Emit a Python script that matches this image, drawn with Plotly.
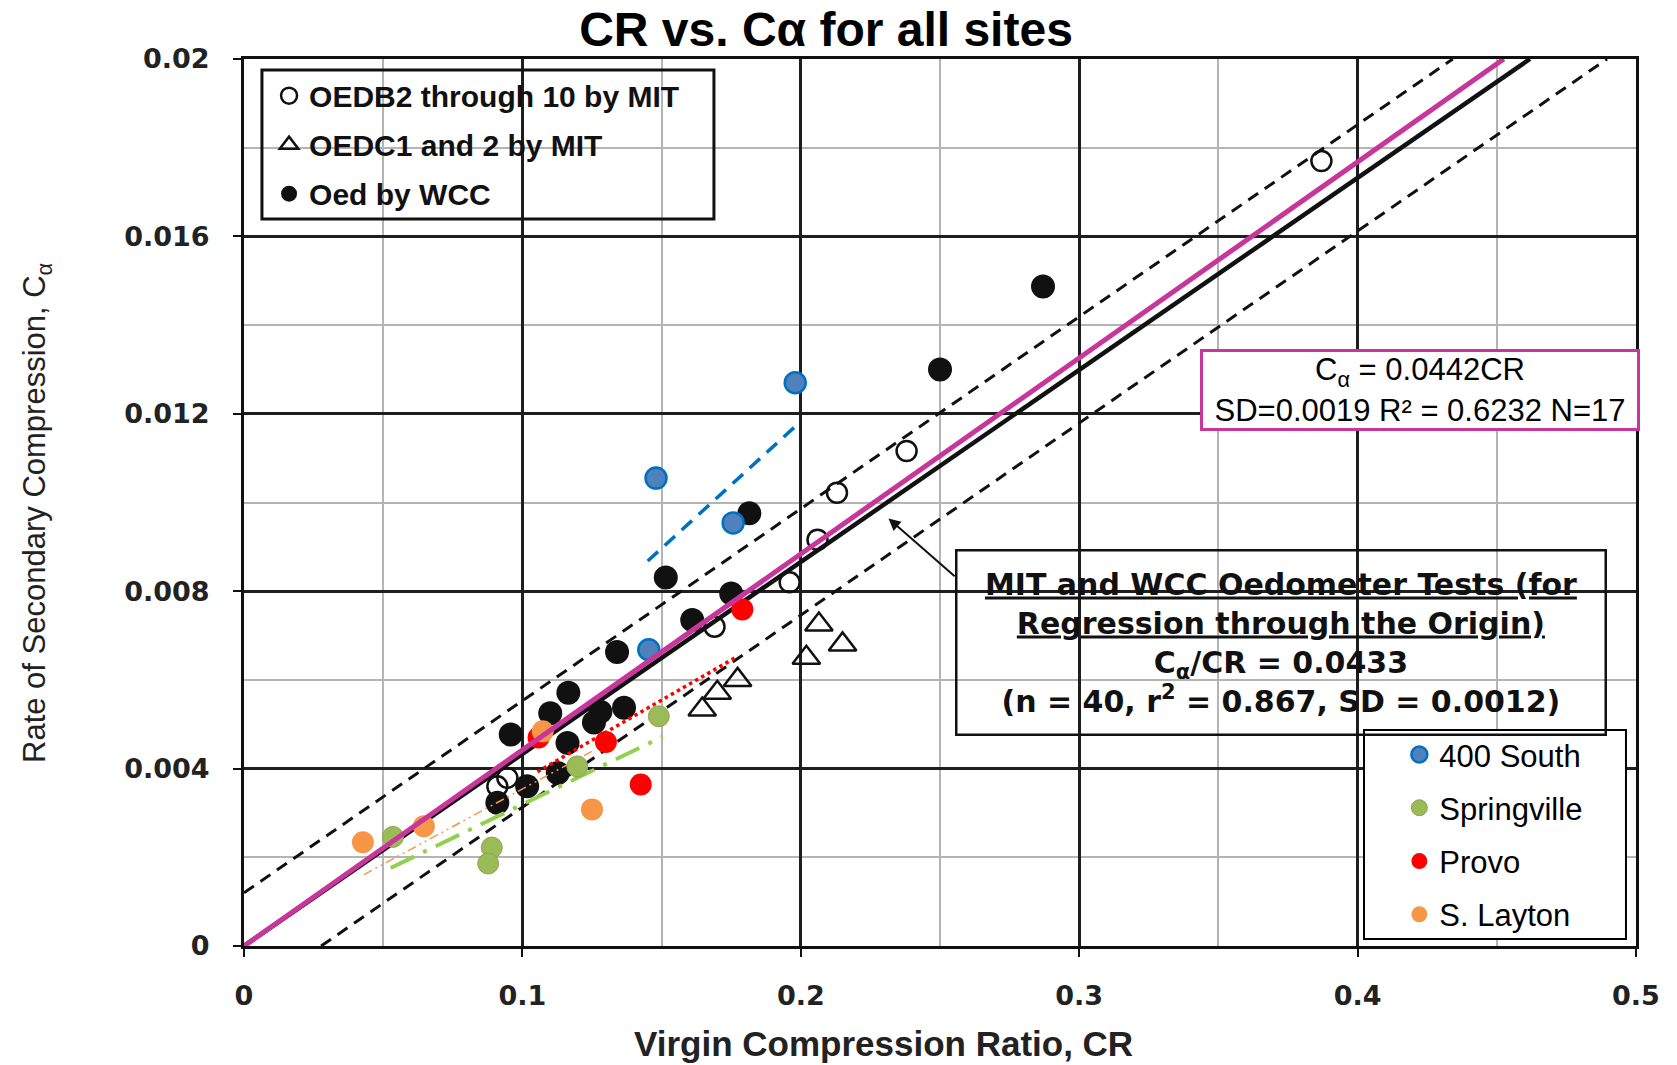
import plotly.graph_objects as go

# ---- data ----
# MIT open circles (OEDB2 through 10)
oedb_cr = [0.387, 0.238, 0.213, 0.206, 0.196, 0.169, 0.0946, 0.091]
oedb_ca = [0.0177, 0.01116, 0.01022, 0.00916, 0.0082, 0.0072, 0.00379, 0.0036]

# MIT triangles (OEDC1 and 2)
oedc_cr = [0.2065, 0.215, 0.202, 0.1773, 0.170, 0.1646]
oedc_ca = [0.00725, 0.0068, 0.0065, 0.0060, 0.00571, 0.00533]

# WCC filled circles
wcc_cr = [0.287, 0.250, 0.1815, 0.1515, 0.175, 0.161, 0.134, 0.1165, 0.110,
          0.128, 0.1365, 0.1257, 0.0958, 0.1162, 0.1127, 0.1017, 0.091]
wcc_ca = [0.01487, 0.0130, 0.00976, 0.00831, 0.00795, 0.00735, 0.00663, 0.00571, 0.00525,
          0.00528, 0.00537, 0.00504, 0.00477, 0.00458, 0.0039, 0.0036, 0.00323]

# site data
south_cr = [0.198, 0.148, 0.1757, 0.1454]
south_ca = [0.0127, 0.01055, 0.00954, 0.00668]
spring_cr = [0.149, 0.1197, 0.089, 0.0877, 0.0535]
spring_ca = [0.00518, 0.00405, 0.00222, 0.00186, 0.00246]
provo_cr = [0.179, 0.130, 0.1425, 0.1058]
provo_ca = [0.00759, 0.0046, 0.00364, 0.0047]
layton_cr = [0.1073, 0.125, 0.0646, 0.0427]
layton_ca = [0.00484, 0.00308, 0.0027, 0.00234]

# site trend lines (end points)
south_fit_cr = [0.145, 0.1988]
south_fit_ca = [0.00868, 0.01176]
spring_fit_cr = [0.0527, 0.1504]
spring_fit_ca = [0.00176, 0.00472]
provo_fit_cr = [0.1054, 0.1773]
provo_fit_ca = [0.00393, 0.00653]
layton_fit_cr = [0.0431, 0.125]
layton_fit_ca = [0.00161, 0.00439]

# regression lines (end points)
all_fit_cr = [0, 0.4525]        # Ca = 0.0442 CR
all_fit_ca = [0, 0.02]
mit_fit_cr = [0, 0.4619]        # Ca/CR = 0.0433
mit_fit_ca = [0, 0.02]
upper_cr = [0, 0.4342]
upper_ca = [0.0012, 0.02]
lower_cr = [0.0277, 0.4896]
lower_ca = [0, 0.02]

FONT = "Liberation Sans, Arial, sans-serif"
WIDE = "DejaVu Sans, Verdana, sans-serif"   # scanned text in the original is stretched wide
INK = "#111111"
MAGENTA = "#C8359B"

W, H = 1677, 1065

fig = go.Figure()

# scanned MIT / WCC data
fig.add_trace(go.Scatter(x=oedb_cr, y=oedb_ca, mode="markers", name="OEDB2 through 10 by MIT",
                         marker=dict(symbol="circle-open", size=20, color=INK, line=dict(width=2.5)),
                         legend="legend", legendgroup="a"))
fig.add_trace(go.Scatter(x=oedc_cr, y=oedc_ca, mode="markers", name="OEDC1 and 2 by MIT",
                         marker=dict(symbol="triangle-up-open", size=24, color=INK, line=dict(width=2.5)),
                         legend="legend", legendgroup="b"))
fig.add_trace(go.Scatter(x=wcc_cr, y=wcc_ca, mode="markers", name="Oed by WCC",
                         marker=dict(symbol="circle", size=24, color=INK),
                         legend="legend", legendgroup="c"))

# black regression lines
fig.add_trace(go.Scatter(x=mit_fit_cr, y=mit_fit_ca, mode="lines", line=dict(color=INK, width=4.5),
                         showlegend=False, hoverinfo="skip"))
fig.add_trace(go.Scatter(x=upper_cr, y=upper_ca, mode="lines", line=dict(color=INK, width=3, dash="12px,8px"),
                         showlegend=False, hoverinfo="skip"))
fig.add_trace(go.Scatter(x=lower_cr, y=lower_ca, mode="lines", line=dict(color=INK, width=3, dash="12px,8px"),
                         showlegend=False, hoverinfo="skip"))

# site trend lines
fig.add_trace(go.Scatter(x=south_fit_cr, y=south_fit_ca, mode="lines",
                         line=dict(color="#0070C0", width=3.5, dash="14px,9px"),
                         showlegend=False, hoverinfo="skip"))
fig.add_trace(go.Scatter(x=spring_fit_cr, y=spring_fit_ca, mode="lines",
                         line=dict(color="#92D050", width=4, dash="26px,10px,4px,10px"),
                         showlegend=False, hoverinfo="skip"))
fig.add_trace(go.Scatter(x=provo_fit_cr, y=provo_fit_ca, mode="lines",
                         line=dict(color="#FF0000", width=3.5, dash="dot"),
                         showlegend=False, hoverinfo="skip"))
fig.add_trace(go.Scatter(x=layton_fit_cr, y=layton_fit_ca, mode="lines",
                         line=dict(color="#F79646", width=1.5, dash="9px,4px,2px,4px,2px,4px"),
                         showlegend=False, hoverinfo="skip"))

# site points
fig.add_trace(go.Scatter(x=south_cr, y=south_ca, mode="markers", name="400 South",
                         marker=dict(size=21, color="#4F81BD", line=dict(color="#0070C0", width=2.5)),
                         legend="legend2", legendgroup="d"))
fig.add_trace(go.Scatter(x=spring_cr, y=spring_ca, mode="markers", name="Springville",
                         marker=dict(size=21, color="#9BBB59", line=dict(color="#8AA64C", width=1)),
                         legend="legend2", legendgroup="e"))
fig.add_trace(go.Scatter(x=provo_cr, y=provo_ca, mode="markers", name="Provo",
                         marker=dict(size=22, color="#FF0000"),
                         legend="legend2", legendgroup="f"))
fig.add_trace(go.Scatter(x=layton_cr, y=layton_ca, mode="markers", name="S. Layton",
                         marker=dict(size=22, color="#F79646"),
                         legend="legend2", legendgroup="g"))

# magenta all-sites regression on top
fig.add_trace(go.Scatter(x=all_fit_cr, y=all_fit_ca, mode="lines", line=dict(color=MAGENTA, width=5),
                         showlegend=False, hoverinfo="skip"))

axis_common = dict(
    showline=True, linecolor=INK, linewidth=3, mirror=True,
    showgrid=True, gridcolor="#1e1e1e", gridwidth=3,
    ticks="outside", ticklen=8, tickwidth=2, tickcolor=INK,
    tickfont=dict(family=WIDE, size=27, color="#222", weight="bold"),
    zeroline=False,
)

fig.update_xaxes(range=[0, 0.5], tickvals=[0, 0.1, 0.2, 0.3, 0.4, 0.5],
                 ticktext=["0", "0.1", "0.2", "0.3", "0.4", "0.5"], ticklabelstandoff=16,
                 minor=dict(dtick=0.05, showgrid=True, gridcolor="#b4b4b4", gridwidth=1.5),
                 **axis_common)
fig.update_yaxes(range=[0, 0.02], tickvals=[0, 0.004, 0.008, 0.012, 0.016, 0.02],
                 ticktext=["0", "0.004", "0.008", "0.012", "0.016", "0.02"], ticklabelstandoff=18,
                 minor=dict(dtick=0.002, showgrid=True, gridcolor="#b4b4b4", gridwidth=1.5),
                 **axis_common)

fig.update_layout(
    width=W, height=H,
    margin=dict(l=244, r=W - 244 - 1392, t=59, b=H - 59 - 887),
    plot_bgcolor="white", paper_bgcolor="white",
    font=dict(family=FONT, color=INK),
    title=dict(text="<b>CR vs. C\u03b1 for all sites</b>", x=826 / W, xanchor="center",
               y=1 - 29 / H, yanchor="middle", font=dict(family=FONT, size=48, color="black")),
    legend=dict(x=0.018, y=0.988, xanchor="left", yanchor="top", bgcolor="rgba(0,0,0,0)",
                borderwidth=0, tracegroupgap=7, itemsizing="trace",
                font=dict(family=FONT, size=30, color=INK, weight="bold")),
    legend2=dict(x=0.83, y=0.246, xanchor="left", yanchor="top", bgcolor="rgba(0,0,0,0)",
                 borderwidth=0, tracegroupgap=10, itemsizing="trace",
                 font=dict(family=FONT, size=31, color="black")),
    showlegend=True,
)

# legend boxes
fig.add_shape(type="rect", xref="paper", yref="paper", x0=0.0129, x1=0.3376, y0=0.8196, y1=0.9876,
              line=dict(color=INK, width=3), layer="above")
fig.add_shape(type="rect", xref="paper", yref="paper", x0=0.8046, x1=0.9928, y0=0.0079, y1=0.2435,
              line=dict(color="black", width=2), fillcolor="white", layer="above")

# regression boxes
fig.add_annotation(xref="paper", yref="paper", x=0.845, y=0.627, xanchor="center", yanchor="middle",
                   text="C<sub>\u03b1</sub> = 0.0442CR<br>SD=0.0019 R\u00b2 = 0.6232 N=17",
                   showarrow=False, font=dict(family=FONT, size=31, color="black"),
                   width=432, height=74, bgcolor="white", bordercolor=MAGENTA, borderwidth=3, borderpad=1)
fig.add_annotation(xref="paper", yref="paper", x=0.745, y=0.342, xanchor="center", yanchor="middle",
                   text="<u>MIT and WCC Oedometer Tests (for</u><br><u>Regression through the Origin)</u><br>"
                        "C<sub>\u03b1</sub>/CR = 0.0433<br>(n = 40, r<sup>2</sup> = 0.867, SD = 0.0012)",
                   showarrow=False, font=dict(family=WIDE, size=30, color=INK, weight="bold"),
                   width=645, height=180, bgcolor="rgba(0,0,0,0)", bordercolor=INK, borderwidth=2.5, borderpad=1)
fig.add_annotation(x=0.2315, y=0.00964, ax=0.2558, ay=0.00831, xref="x", yref="y", axref="x", ayref="y",
                   text="", showarrow=True, arrowhead=2, arrowsize=1.2, arrowwidth=2, arrowcolor=INK)

# axis titles
fig.add_annotation(xref="paper", yref="paper", x=(883 - 244) / 1392, y=(946 - 1043) / 887,
                   xanchor="center", yanchor="middle", showarrow=False,
                   text="Virgin Compression Ratio, CR",
                   font=dict(family=FONT, size=35, color="#222", weight="bold"))
fig.add_annotation(xref="paper", yref="paper", x=(37 - 244) / 1392, y=(946 - 513) / 887,
                   xanchor="center", yanchor="middle", showarrow=False, textangle=-90,
                   text="Rate of Secondary Compression, C<sub>\u03b1</sub>",
                   font=dict(family=FONT, size=31, color="#222"))

# drop the default 8px page margin so the figure fills the window exactly
fig.write_html("out.html", config={"displayModeBar": False},
               post_script="document.body.style.margin='0px';")
